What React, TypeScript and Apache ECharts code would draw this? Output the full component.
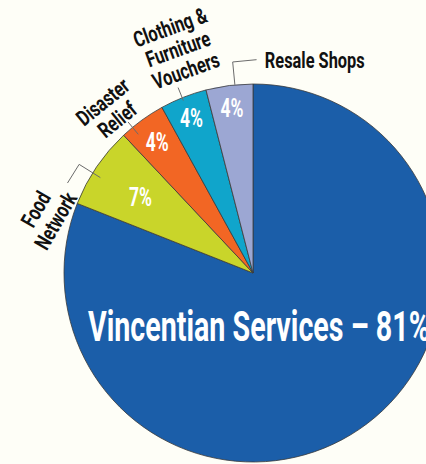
import React, { useEffect, useRef } from "react";
import * as echarts from "echarts";

// ---- data ----
const categories = [
  "Vincentian Services",
  "Food Network",
  "Disaster Relief",
  "Clothing & Furniture Vouchers",
  "Resale Shops",
];
const values = [81, 7, 4, 4, 4];
const percentLabels = values.map((v) => `${v}%`);
// how outer names are broken into lines
const wrappedNames = [
  "Vincentian Services",
  "Food\nNetwork",
  "Disaster\nRelief",
  "Clothing &\nFurniture\nVouchers",
  "Resale Shops",
];

// ---- style ----
const colors = ["#1B5EA9", "#C9D52A", "#F26624", "#10A5CB", "#9CA7D3"];
const BG = "#FEFEF7";
const FONT = "Roboto, 'Liberation Sans', sans-serif";
const CX = 253;
const CY = 273;
const R = 189;

// outer label placement relative to slice mid-angle (deg, clockwise from top)
const outerStyle: any[] = [
  null,
  { dA: -18.6, r: 215, rot: 60, align: "center", leader: { dA: -2.2, r0: 180, r1: 205, tan: -22 } },
  { dA: -5.4, r: 216, rot: 39, align: "center", leader: { dA: -3.6, r0: 180, r1: 196, tan: 0 } },
  { dA: 3.1, r: 236, rot: 20, align: "center", leader: { dA: -0.4, r0: 186, r1: 200, tan: 0 } },
  { dA: 10.4, r: 212.3, rot: 0, align: "left", leader: { dA: 1.7, r0: 189, r1: 212, tan: 24 } },
];
const pctRadius = [0, 136, 163, 167, 167];

function pt(angleDeg: number, r: number): [number, number] {
  const t = (angleDeg * Math.PI) / 180;
  return [CX + r * Math.sin(t), CY - r * Math.cos(t)];
}

const measureCtx = document.createElement("canvas").getContext("2d")!;
function measure(text: string, font: string) {
  measureCtx.font = font;
  return Math.max(...text.split("\n").map((l) => measureCtx.measureText(l).width));
}

export default function App() {
  const ref = useRef<HTMLDivElement>(null);
  useEffect(() => {
    document.body.style.margin = "0";
    document.body.style.background = BG;
    const chart = echarts.init(ref.current!, null, { renderer: "svg" });
    const total = values.reduce((a, b) => a + b, 0);
    let acc = 0;
    const mids = values.map((v) => {
      const a0 = (acc / total) * 360;
      acc += v;
      const a1 = (acc / total) * 360;
      return (a0 + a1) / 2;
    });

    const pctFont = `bold 26px ${FONT}`;
    const outerFont = `bold 22px ${FONT}`;
    const bigFont = `bold 42px ${FONT}`;
    const bigText = `${categories[0]} – ${percentLabels[0]}`;
    const pctScale = 23 / measure("4%", pctFont);
    const outerScale = 100 / measure(wrappedNames[4], outerFont);
    const bigScale = 342 / measure(bigText, bigFont);

    const graphics: any[] = [];
    // percentage labels inside small slices
    for (let i = 1; i < values.length; i++) {
      const [x, y] = pt(mids[i], pctRadius[i]);
      graphics.push({
        type: "text",
        x,
        y,
        z: 100,
        scaleX: pctScale,
        style: {
          text: percentLabels[i],
          fill: "#ffffff",
          font: pctFont,
          align: "center",
          verticalAlign: "middle",
          textAlign: "center",
          textVerticalAlign: "middle",
        },
      });
    }
    // outer names and leader lines
    for (let i = 1; i < values.length; i++) {
      const s = outerStyle[i];
      const [x, y] = pt(mids[i] + s.dA, s.r);
      graphics.push({
        type: "text",
        x,
        y,
        z: 100,
        rotation: (s.rot * Math.PI) / 180,
        scaleX: outerScale,
        style: {
          text: wrappedNames[i],
          fill: "#111111",
          font: outerFont,
          lineHeight: 23,
          align: s.align,
          verticalAlign: "middle",
          textAlign: s.align,
          textVerticalAlign: "middle",
        },
      });
      const L = s.leader;
      const a = mids[i] + L.dA;
      const p0 = pt(a, L.r0);
      const p1 = pt(a, L.r1);
      const t = (a * Math.PI) / 180;
      const points = [p0, p1];
      if (L.tan) points.push([p1[0] + L.tan * Math.cos(t), p1[1] + L.tan * Math.sin(t)]);
      graphics.push({
        type: "polyline",
        z: 100,
        shape: { points },
        style: { stroke: "#6b6b6b", lineWidth: 1, fill: "none" },
      });
    }
    // big label for the dominant slice
    graphics.push({
      type: "text",
      x: 88,
      y: 327,
      z: 100,
      scaleX: bigScale,
      style: {
        text: bigText,
        fill: "#ffffff",
        font: bigFont,
        align: "left",
        verticalAlign: "middle",
        textAlign: "left",
        textVerticalAlign: "middle",
      },
    });

    chart.setOption({
      animation: false,
      backgroundColor: BG,
      series: [
        {
          type: "pie",
          center: [CX, CY],
          radius: R,
          startAngle: 90,
          clockwise: true,
          silent: true,
          label: { show: false },
          labelLine: { show: false },
          itemStyle: { borderColor: "#3a3a3a", borderWidth: 0.8 },
          data: categories.map((name, i) => ({
            name,
            value: values[i],
            itemStyle: { color: colors[i] },
          })),
        },
      ],
      graphic: { elements: graphics },
    });
    return () => chart.dispose();
  }, []);
  return (
    <div
      ref={ref}
      style={{ position: "fixed", left: 0, top: 0, width: 426, height: 464, background: BG }}
    />
  );
}
